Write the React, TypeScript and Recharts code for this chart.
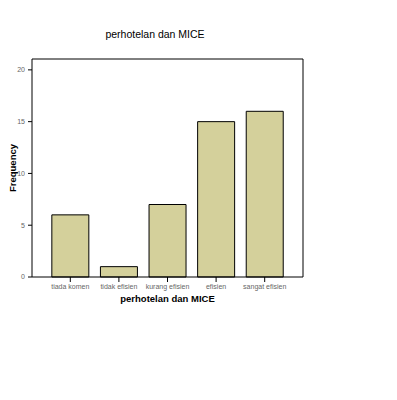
import React from 'react';
import { BarChart, Bar, XAxis, YAxis, Label, ReferenceLine } from 'recharts';

const categories = ['tiada komen', 'tidak efisien', 'kurang efisien', 'efisien', 'sangat efisien'];
const frequencies = [6, 1, 7, 15, 16];
const yTicks = [0, 5, 10, 15, 20];
const yMax = 21.05;
const chartTitle = 'perhotelan dan MICE';
const xTitle = 'perhotelan dan MICE';
const yTitle = 'Frequency';

const data = categories.map((c, i) => ({ name: c, value: frequencies[i] }));

const FONT = 'Arial, "Liberation Sans", sans-serif';

export default function App() {
  return (
    <BarChart
      width={389}
      height={392}
      data={data}
      margin={{ top: 51, right: 93, bottom: 93, left: 0 }}
      barCategoryGap="12%"
    >
      <XAxis
        dataKey="name"
        xAxisId="main"
        padding={{ left: 14, right: 14 }}
        axisLine={{ stroke: '#000', strokeWidth: 1 }}
        tickLine={{ stroke: '#000' }}
        tickSize={5}
        tickMargin={2}
        height={30}
        interval={0}
        tick={{ fontSize: 7, fill: '#666', fontFamily: FONT }}
      >
        <Label
          value={xTitle}
          position="insideBottom"
          offset={5}
          style={{ fontSize: 9.5, fontWeight: 'bold', fill: '#000', fontFamily: FONT }}
        />
      </XAxis>
      <YAxis
        yAxisId="main"
        domain={[0, yMax]}
        ticks={yTicks}
        width={24}
        axisLine={{ stroke: '#000' }}
        tickLine={{ stroke: '#000' }}
        tickSize={4}
        tickMargin={3}
        tick={{ fontSize: 7, fill: '#666', fontFamily: FONT }}
      >
        <Label
          content={() => (
            <g>
              <text
                x={8}
                y={160}
                transform="rotate(-90 8 160)"
                textAnchor="middle"
                style={{ fontSize: 9.5, fontWeight: 'bold', fill: '#000', fontFamily: FONT }}
              >
                {yTitle}
              </text>
              <text
                x={147}
                y={30}
                textAnchor="middle"
                style={{ fontSize: 10.5, fill: '#000', fontFamily: FONT }}
              >
                {chartTitle}
              </text>
            </g>
          )}
        />
      </YAxis>
      <YAxis
        yAxisId="right"
        orientation="right"
        domain={[0, yMax]}
        width={1}
        tick={false}
        tickLine={false}
        axisLine={{ stroke: '#000' }}
      />
      <ReferenceLine xAxisId="main" yAxisId="main" y={yMax} stroke="#000" strokeWidth={1} />
      <Bar
        dataKey="value"
        xAxisId="main"
        yAxisId="main"
        fill="#d4d09b"
        stroke="#000"
        strokeWidth={1}
        isAnimationActive={false}
      />
    </BarChart>
  );
}
